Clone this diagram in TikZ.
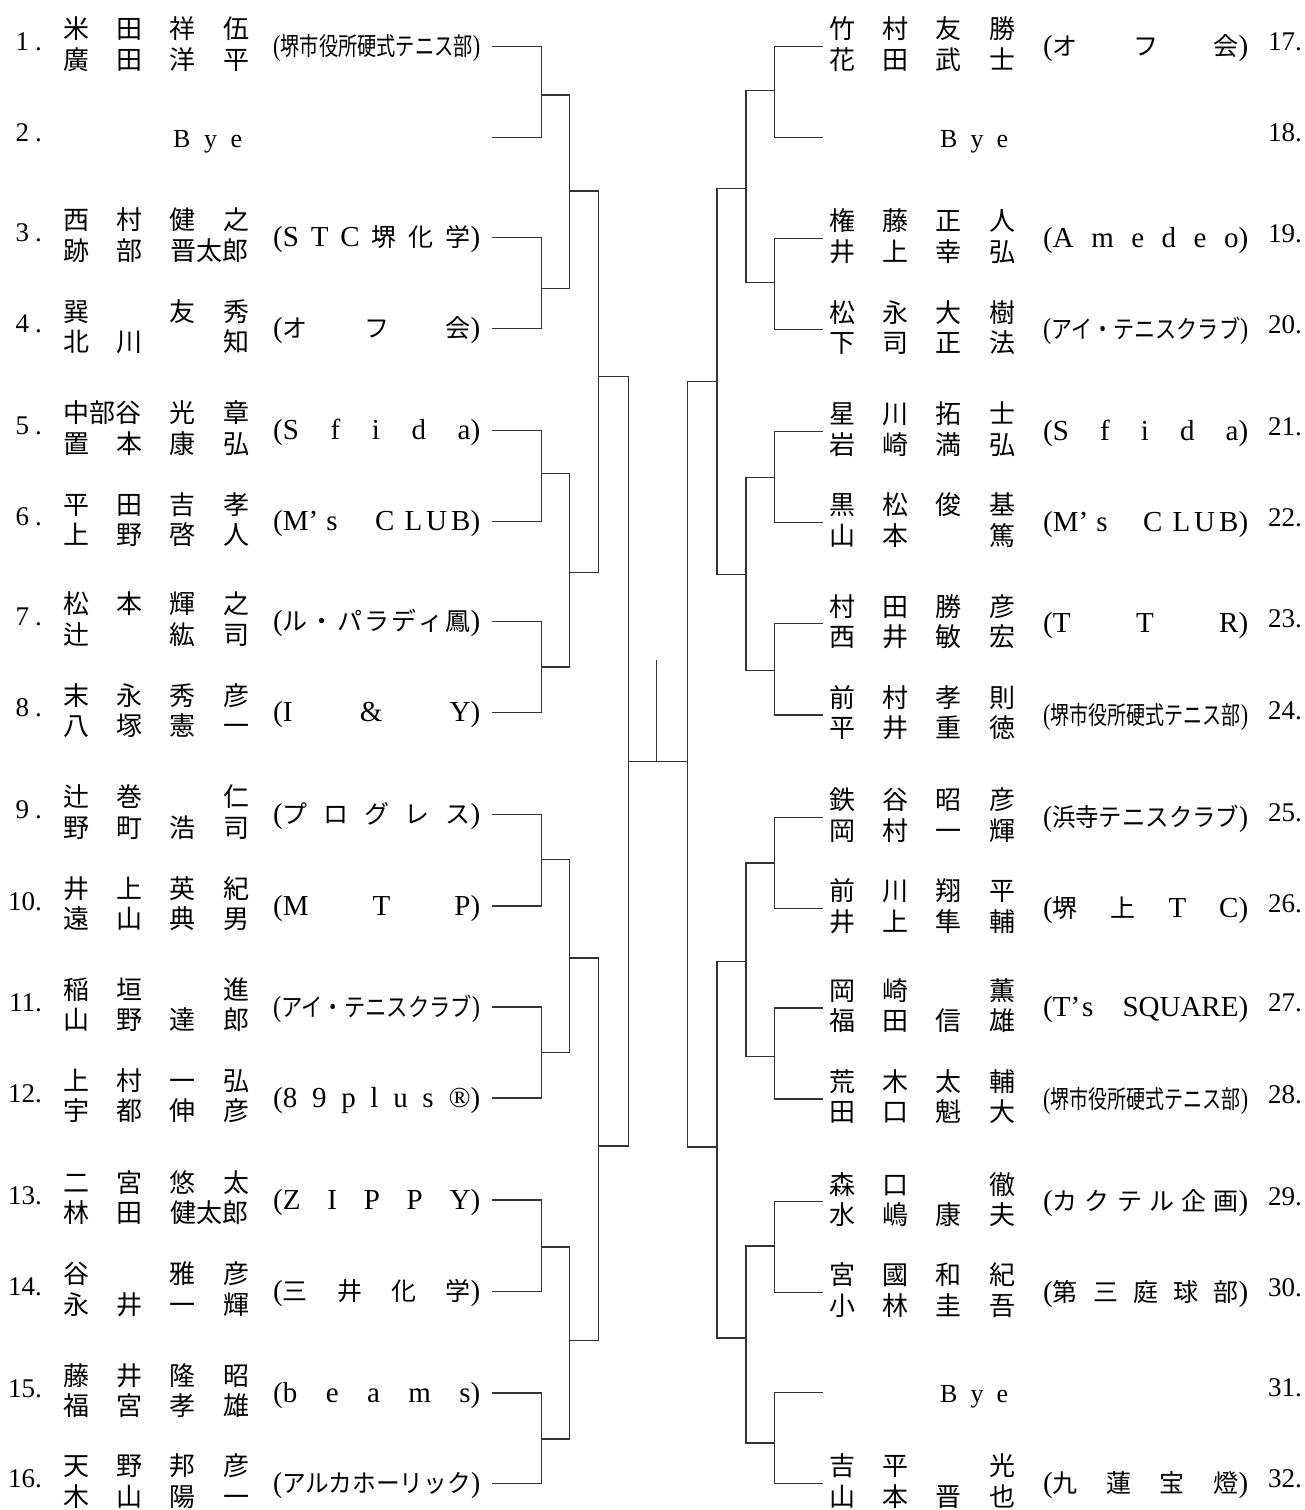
\documentclass[tikz,border=0pt]{standalone}
\usepackage{fontspec}
\usepackage{graphicx}
\setmainfont{Liberation Serif}
\newfontfamily\jpf{Noto Sans CJK JP}
\newcommand\J[1]{{\jpf\fontsize{25}{25}\selectfont #1}}
\newlength\clubw
\newlength\fitw
\newsavebox\fitbox
\newcommand\spr[1]{\makebox[\clubw][s]{#1}}
\newcommand\rsz[1]{\sbox\fitbox{#1}\setlength\fitw{\wd\fitbox}\scalebox{\fpeval{\clubw/\fitw}}[1]{\usebox\fitbox}}
\newcommand\kslot[1]{\makebox[53.3pt]{#1}}
\newcommand\kdslot[1]{\makebox[106.6pt]{#1}}
\newcommand\krow[4]{\kslot{#1}\kslot{#2}\kslot{#3}\kslot{#4}}
\tikzset{
  br/.style={line width=1.3pt, draw=black!80},
  namerow/.style={inner sep=0pt, font=\jpf\fontsize{26}{26}\selectfont},
  numtxt/.style={inner sep=0pt, font=\fontsize{27}{27}\selectfont},
  clubtxt/.style={inner sep=0pt, font=\fontsize{29}{29}\selectfont},
  byetxt/.style={inner sep=0pt, font=\fontsize{26}{26}\selectfont},
}
% left entry: idx, y, number, row1, row2, club
\newcommand\entL[6]{%
  \coordinate (L#1) at (492.3,#2);
  \node[numtxt, anchor=base east] (LN#1) at (42,#2+4) {#3};
  \node[namerow, anchor=base west] (LA#1) at (49.35,#2-7.6) {#4};
  \node[namerow, anchor=base west] (LB#1) at (49.35,#2+22.9) {#5};
  \node[clubtxt, anchor=base west] (LC#1) at (273,#2+9) {#6};
}
\newcommand\byeL[3]{%
  \coordinate (L#1) at (492.3,#2);
  \node[numtxt, anchor=base east] (LN#1) at (42,#2+4) {#3};
  \node[byetxt, anchor=base west] (LY#1) at (173,#2+10) {\makebox[69pt][s]{B\hfill y\hfill e}};
}
\newcommand\entR[6]{%
  \coordinate (R#1) at (823,#2);
  \node[numtxt, anchor=base west] (RN#1) at (1268,#2+4) {#3};
  \node[namerow, anchor=base west] (RA#1) at (815.35,#2-7.6) {#4};
  \node[namerow, anchor=base west] (RB#1) at (815.35,#2+22.9) {#5};
  \node[clubtxt, anchor=base west] (RC#1) at (1043,#2+9) {#6};
}
\newcommand\byeR[3]{%
  \coordinate (R#1) at (823,#2);
  \node[numtxt, anchor=base west] (RN#1) at (1268,#2+4) {#3};
  \node[byetxt, anchor=base west] (RY#1) at (940,#2+10) {\makebox[68pt][s]{B\hfill y\hfill e}};
}
\begin{document}
\begin{tikzpicture}[x=1pt,y=-1pt]
\useasboundingbox (0,0) rectangle (1304,1510);
% ---------- left side ----------
\setlength\clubw{207pt}
\entL{1}{46.5}{1\kern6pt.}{\krow{米}{田}{祥}{伍}}{\krow{廣}{田}{洋}{平}}{\rsz{(\J{堺市役所硬式テニス部})}}
\byeL{2}{137.7}{2\kern6pt.}
\entL{3}{237.5}{3\kern6pt.}{\krow{西}{村}{健}{之}}{\kslot{跡}\kslot{部}\kdslot{晋太郎}}{\spr{(S\hfill T\hfill C\hfill\J{堺}\hfill\J{化}\hfill\J{学})}}
\entL{4}{328.6}{4\kern6pt.}{\krow{巽}{}{友}{秀}}{\krow{北}{川}{}{知}}{\spr{(\J{オ}\hfill\J{フ}\hfill\J{会})}}
\entL{5}{430.4}{5\kern6pt.}{\kdslot{中部谷}\kslot{光}\kslot{章}}{\krow{置}{本}{康}{弘}}{\spr{(S\hfill f\hfill i\hfill d\hfill a)}}
\entL{6}{521.6}{6\kern6pt.}{\krow{平}{田}{吉}{孝}}{\krow{上}{野}{啓}{人}}{\spr{(M’\hspace{8pt}s\hfill C\hspace{10pt}L\hspace{4pt}U\hspace{4pt}B)}}
\entL{7}{621.4}{7\kern6pt.}{\krow{松}{本}{輝}{之}}{\krow{辻}{}{紘}{司}}{\spr{(\J{ル}\hfill\J{・}\hfill\J{パ}\hfill\J{ラ}\hfill\J{デ}\hfill\J{ィ}\hfill\J{鳳})}}
\entL{8}{712.6}{8\kern6pt.}{\krow{末}{永}{秀}{彦}}{\krow{八}{塚}{憲}{一}}{\spr{(I\hfill\&\hfill Y)}}
\entL{9}{814.5}{9\kern6pt.}{\krow{辻}{巻}{}{仁}}{\krow{野}{町}{浩}{司}}{\spr{(\J{プ}\hfill\J{ロ}\hfill\J{グ}\hfill\J{レ}\hfill\J{ス})}}
\entL{10}{906}{10.}{\krow{井}{上}{英}{紀}}{\krow{遠}{山}{典}{男}}{\spr{(M\hfill T\hfill P)}}
\entL{11}{1007}{11.}{\krow{稲}{垣}{}{進}}{\krow{山}{野}{達}{郎}}{\rsz{(\J{アイ・テニスクラブ})}}
\entL{12}{1098}{12.}{\krow{上}{村}{一}{弘}}{\krow{宇}{都}{伸}{彦}}{\spr{(8\hfill 9\hfill p\hfill l\hfill u\hfill s\hfill ®)}}
\entL{13}{1200}{13.}{\krow{二}{宮}{悠}{太}}{\kslot{林}\kslot{田}\kdslot{健太郎}}{\spr{(Z\hfill I\hfill P\hfill P\hfill Y)}}
\entL{14}{1291.5}{14.}{\krow{谷}{}{雅}{彦}}{\krow{永}{井}{一}{輝}}{\spr{(\J{三}\hfill\J{井}\hfill\J{化}\hfill\J{学})}}
\entL{15}{1393}{15.}{\krow{藤}{井}{隆}{昭}}{\krow{福}{宮}{孝}{雄}}{\spr{(b\hfill e\hfill a\hfill m\hfill s)}}
\entL{16}{1483.4}{16.}{\krow{天}{野}{邦}{彦}}{\krow{木}{山}{陽}{一}}{\rsz{(\J{アルカホーリック})}}
% ---------- right side ----------
\setlength\clubw{205pt}
\entR{17}{46.5}{17.}{\krow{竹}{村}{友}{勝}}{\krow{花}{田}{武}{士}}{\spr{(\J{オ}\hfill\J{フ}\hfill\J{会})}}
\byeR{18}{137.7}{18.}
\entR{19}{238.5}{19.}{\krow{権}{藤}{正}{人}}{\krow{井}{上}{幸}{弘}}{\spr{(A\hfill m\hfill e\hfill d\hfill e\hfill o)}}
\entR{20}{329.6}{20.}{\krow{松}{永}{大}{樹}}{\krow{下}{司}{正}{法}}{\rsz{(\J{アイ・テニスクラブ})}}
\entR{21}{431.4}{21.}{\krow{星}{川}{拓}{士}}{\krow{岩}{崎}{満}{弘}}{\spr{(S\hfill f\hfill i\hfill d\hfill a)}}
\entR{22}{522.5}{22.}{\krow{黒}{松}{俊}{基}}{\krow{山}{本}{}{篤}}{\spr{(M’\hspace{8pt}s\hfill C\hspace{10pt}L\hspace{4pt}U\hspace{4pt}B)}}
\entR{23}{623.8}{23.}{\krow{村}{田}{勝}{彦}}{\krow{西}{井}{敏}{宏}}{\spr{(T\hfill T\hfill R)}}
\entR{24}{715}{24.}{\krow{前}{村}{孝}{則}}{\krow{平}{井}{重}{徳}}{\rsz{(\J{堺市役所硬式テニス部})}}
\entR{25}{817.4}{25.}{\krow{鉄}{谷}{昭}{彦}}{\krow{岡}{村}{一}{輝}}{\rsz{(\J{浜寺テニスクラブ})}}
\entR{26}{908.5}{26.}{\krow{前}{川}{翔}{平}}{\krow{井}{上}{隼}{輔}}{\spr{(\J{堺}\hfill\J{上}\hfill T\hfill C)}}
\entR{27}{1007.9}{27.}{\krow{岡}{崎}{}{薫}}{\krow{福}{田}{信}{雄}}{\spr{(T’\hspace{2pt}s\hfill SQUARE)}}
\entR{28}{1099}{28.}{\krow{荒}{木}{太}{輔}}{\krow{田}{口}{魁}{大}}{\rsz{(\J{堺市役所硬式テニス部})}}
\entR{29}{1201.8}{29.}{\krow{森}{口}{}{徹}}{\krow{水}{嶋}{康}{夫}}{\spr{(\J{カ}\hfill\J{ク}\hfill\J{テ}\hfill\J{ル}\hfill\J{企}\hfill\J{画})}}
\entR{30}{1292.4}{30.}{\krow{宮}{國}{和}{紀}}{\krow{小}{林}{圭}{吾}}{\spr{(\J{第}\hfill\J{三}\hfill\J{庭}\hfill\J{球}\hfill\J{部})}}
\byeR{31}{1392.3}{31.}
\entR{32}{1483.4}{32.}{\krow{吉}{平}{}{光}}{\krow{山}{本}{晋}{也}}{\spr{(\J{九}\hfill\J{蓮}\hfill\J{宝}\hfill\J{燈})}}
% ---------- left bracket ----------
\coordinate (jl1a) at (541.7,95);
\coordinate (jl1b) at (541.7,288.4);
\coordinate (jl1c) at (541.7,473.6);
\coordinate (jl1d) at (541.7,667);
\coordinate (jl1e) at (541.7,859.5);
\coordinate (jl1f) at (541.7,1052.5);
\coordinate (jl1g) at (541.7,1247);
\coordinate (jl1h) at (541.7,1439);
\draw[br] (L1) -| (jl1a) |- (L2);
\draw[br] (L3) -| (jl1b) |- (L4);
\draw[br] (L5) -| (jl1c) |- (L6);
\draw[br] (L7) -| (jl1d) |- (L8);
\draw[br] (L9) -| (jl1e) |- (L10);
\draw[br] (L11) -| (jl1f) |- (L12);
\draw[br] (L13) -| (jl1g) |- (L14);
\draw[br] (L15) -| (jl1h) |- (L16);
\coordinate (jl2a) at (569.3,191);
\coordinate (jl2b) at (569.3,572.5);
\coordinate (jl2c) at (569.3,958);
\coordinate (jl2d) at (569.3,1340.4);
\draw[br] (jl1a) -| (jl2a) |- (jl1b);
\draw[br] (jl1c) -| (jl2b) |- (jl1d);
\draw[br] (jl1e) -| (jl2c) |- (jl1f);
\draw[br] (jl1g) -| (jl2d) |- (jl1h);
\coordinate (jl3a) at (598.7,376.6);
\coordinate (jl3b) at (598.7,1146);
\draw[br] (jl2a) -| (jl3a) |- (jl2b);
\draw[br] (jl2c) -| (jl3b) |- (jl2d);
\coordinate (jl4) at (628.7,761.6);
\draw[br] (jl3a) -| (jl4) |- (jl3b);
% ---------- right bracket ----------
\coordinate (jr1a) at (774.5,90.6);
\coordinate (jr1b) at (774.5,282.6);
\coordinate (jr1c) at (774.5,477.5);
\coordinate (jr1d) at (774.5,670.4);
\coordinate (jr1e) at (774.5,863);
\coordinate (jr1f) at (774.5,1056.4);
\coordinate (jr1g) at (774.5,1245.9);
\coordinate (jr1h) at (774.5,1443);
\draw[br] (R17) -| (jr1a) |- (R18);
\draw[br] (R19) -| (jr1b) |- (R20);
\draw[br] (R21) -| (jr1c) |- (R22);
\draw[br] (R23) -| (jr1d) |- (R24);
\draw[br] (R25) -| (jr1e) |- (R26);
\draw[br] (R27) -| (jr1f) |- (R28);
\draw[br] (R29) -| (jr1g) |- (R30);
\draw[br] (R31) -| (jr1h) |- (R32);
\coordinate (jr2a) at (746,188.6);
\coordinate (jr2b) at (746,574.4);
\coordinate (jr2c) at (746,961.8);
\coordinate (jr2d) at (746,1338);
\draw[br] (jr1a) -| (jr2a) |- (jr1b);
\draw[br] (jr1c) -| (jr2b) |- (jr1d);
\draw[br] (jr1e) -| (jr2c) |- (jr1f);
\draw[br] (jr1g) -| (jr2d) |- (jr1h);
\coordinate (jr3a) at (717,381.5);
\coordinate (jr3b) at (717,1147);
\draw[br] (jr2a) -| (jr3a) |- (jr2b);
\draw[br] (jr2c) -| (jr3b) |- (jr2d);
\coordinate (jr4) at (687.3,761.6);
\draw[br] (jr3a) -| (jr4) |- (jr3b);
% ---------- final ----------
\draw[br] (jl4) -- (jr4);
\coordinate (ctop) at (656.7,660);
\coordinate (cbot) at (656.7,761.6);
\draw[br] (ctop) -- (cbot);
\end{tikzpicture}
\end{document}
